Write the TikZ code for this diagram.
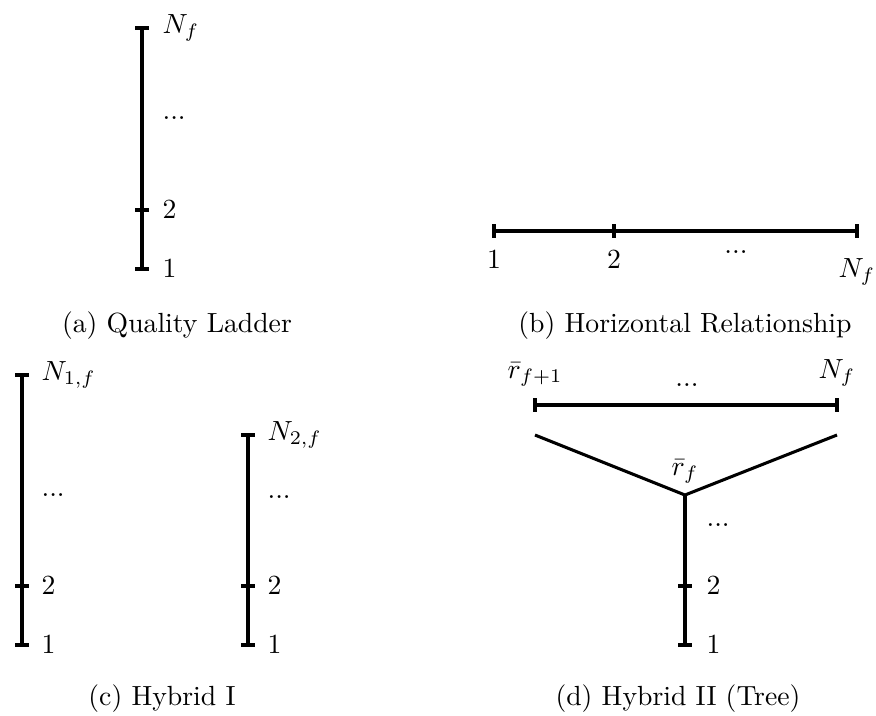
\documentclass[tikz,border=0pt]{standalone}
\newcommand\htick[1]{\draw[axis] ([xshift=-2.4pt]#1) -- ([xshift=2.4pt]#1);}
\newcommand\vtick[1]{\draw[axis] ([yshift=-2.4pt]#1) -- ([yshift=2.4pt]#1);}
\begin{document}
\begin{tikzpicture}[x=0.361pt,y=-0.361pt,
  axis/.style={line width=1.1pt},
  lbl/.style={inner sep=0pt,anchor=west},
  lblb/.style={inner sep=0pt,anchor=north},
  lbla/.style={inner sep=0pt,anchor=south},
  capt/.style={inner sep=0pt,anchor=base}]
\useasboundingbox (0,0) rectangle (876,715);

% (a) Quality ladder
\coordinate (a1) at (142,269);
\coordinate (a2) at (142,210);
\coordinate (aN) at (142,28);
\draw[axis] (a1) -- (aN);
\htick{a1}\htick{a2}\htick{aN}
\node[lbl] (la1) at (162,269) {$1$};
\node[lbl] (la2) at (162,210) {$2$};
\node[lbl] (lad) at (162,118) {...};
\node[lbl] (laN) at (162,28) {$N_f$};
\node[capt] (capa) at (177,332) {(a) Quality Ladder};

% (b) Horizontal relationship
\coordinate (b1) at (494,231);
\coordinate (b2) at (614,231);
\coordinate (bN) at (857,231);
\draw[axis] (b1) -- (bN);
\vtick{b1}\vtick{b2}\vtick{bN}
\node[lblb] (lb1) at (494,250) {$1$};
\node[lblb] (lb2) at (614,250) {$2$};
\node[lblb] (lbd) at (736,250) {...};
\node[lblb] (lbN) at (857,258) {$N_f$};
\node[capt] (capb) at (685,332) {(b) Horizontal Relationship};

% (c) Hybrid I
\coordinate (c1) at (22,645);
\coordinate (c2) at (22,586);
\coordinate (cN) at (22,375);
\draw[axis] (c1) -- (cN);
\htick{c1}\htick{c2}\htick{cN}
\node[lbl] (lc1) at (41,645) {$1$};
\node[lbl] (lc2) at (41,586) {$2$};
\node[lbl] (lcd) at (41,495) {...};
\node[lbl] (lcN) at (41,375) {$N_{1,f}$};

\coordinate (e1) at (248,645);
\coordinate (e2) at (248,586);
\coordinate (eN) at (248,435);
\draw[axis] (e1) -- (eN);
\htick{e1}\htick{e2}\htick{eN}
\node[lbl] (le1) at (267,645) {$1$};
\node[lbl] (le2) at (267,586) {$2$};
\node[lbl] (led) at (267,497) {...};
\node[lbl] (leN) at (267,435) {$N_{2,f}$};
\node[capt] (capc) at (162,705) {(c) Hybrid I};

% (d) Hybrid II (Tree)
\coordinate (tl) at (535,405);
\coordinate (tr) at (837,405);
\draw[axis] (tl) -- (tr);
\vtick{tl}\vtick{tr}
\node[lbla] (ltl) at (535,387) {$\bar{r}_{f+1}$};
\node[lbla] (ltd) at (687,387) {...};
\node[lbla] (ltr) at (837,387) {$N_f$};

\coordinate (dl) at (535,435);
\coordinate (dv) at (685,495);
\coordinate (dr) at (837,435);
\coordinate (d2) at (685,586);
\coordinate (d1) at (685,645);
\draw[axis] (dl) -- (dv) -- (dr);
\draw[axis] (dv) -- (d1);
\htick{d1}\htick{d2}
\node[lbla] (ldv) at (685,484) {$\bar{r}_f$};
\node[lbl] (ld1) at (706,645) {$1$};
\node[lbl] (ld2) at (706,586) {$2$};
\node[lbl] (ldd) at (706,525) {...};
\node[capt] (capd) at (678,705) {(d) Hybrid II (Tree)};
\end{tikzpicture}
\end{document}
